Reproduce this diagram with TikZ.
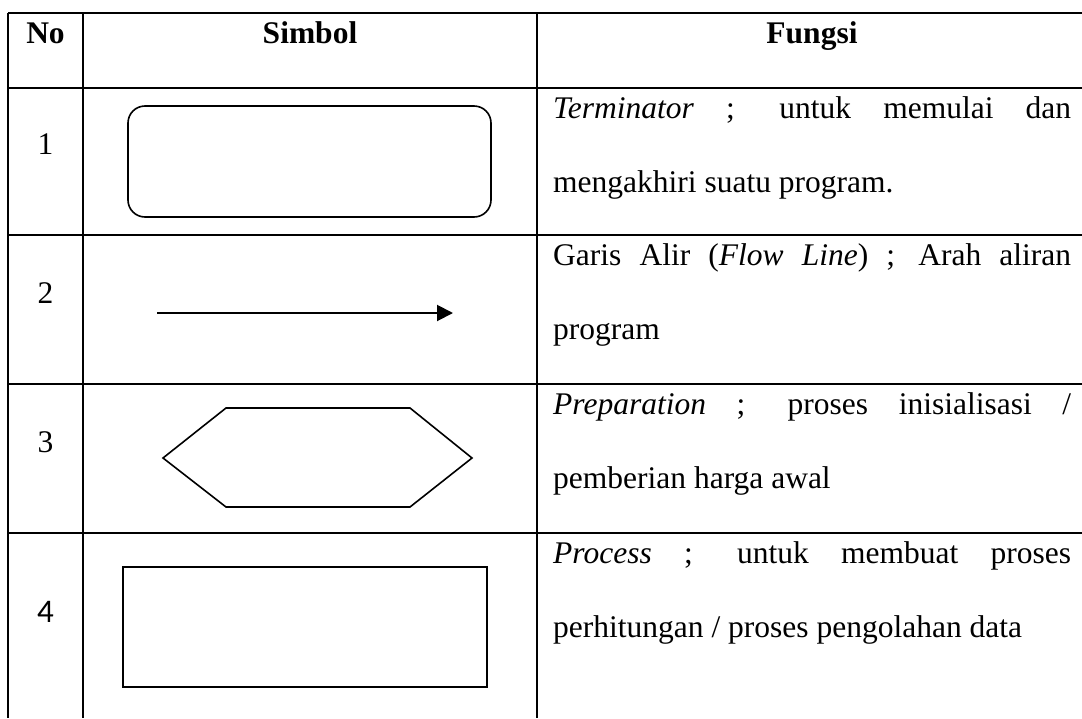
\documentclass[tikz,border=0pt]{standalone}
\usepackage{fontspec}
\setmainfont{Liberation Serif}
\newfontfamily\digitsans{Carlito}
\usetikzlibrary{arrows.meta}
\begin{document}
\begin{tikzpicture}[x=1pt,y=-1pt,
  gridline/.style={line width=1.3pt},
  shapeline/.style={line width=1.6pt},
  headtxt/.style={anchor=base, inner sep=0pt, font=\fontsize{31.5}{36}\selectfont\bfseries},
  numtxt/.style={anchor=base, inner sep=0pt, font=\fontsize{31.5}{36}\selectfont},
  bodytxt/.style={anchor=base west, inner sep=0pt, font=\fontsize{31.5}{36}\selectfont}]
\useasboundingbox (0,0) rectangle (1082,718);
% grid
\foreach \yy in {13,88,235,384,533} \draw[gridline] (8,\yy) -- (1082,\yy);
\foreach \xx in {8,83,537} \draw[gridline] (\xx,13) -- (\xx,718);
% header
\node[headtxt] (hno) at (45.5,43) {No};
\node[headtxt] (hsim) at (310,43) {Simbol};
\node[headtxt] (hfun) at (812,43) {Fungsi};
% numbers
\node[numtxt] (n1) at (45.5,154) {1};
\node[numtxt] (n2) at (45.5,303) {2};
\node[numtxt] (n3) at (45.5,452) {3};
\node[numtxt, font=\fontsize{33}{36}\selectfont\digitsans] (n4) at (45.5,622) {4};
% symbols
\node[draw, shapeline, rounded corners=17pt, minimum width=363pt, minimum height=111pt, inner sep=0pt] (term) at (309.5,161.5) {};
\coordinate (arrA) at (157,313);
\coordinate (arrB) at (453,313);
\draw[shapeline, line width=2pt, -{Triangle[length=16pt,width=16pt]}] (arrA) -- (arrB);
\coordinate (hxL) at (163,458);
\coordinate (hxTL) at (226,408);
\coordinate (hxTR) at (410,408);
\coordinate (hxR) at (472,458);
\coordinate (hxBR) at (410,507);
\coordinate (hxBL) at (226,507);
\draw[shapeline, line join=miter] (hxL) -- (hxTL) -- (hxTR) -- (hxR) -- (hxBR) -- (hxBL) -- cycle;
\node[draw, shapeline, minimum width=364pt, minimum height=120pt, inner sep=0pt] (proc) at (305,627) {};
% texts
\node[bodytxt] (t1a) at (553,118) {\makebox[518pt][s]{\textit{Terminator} ; untuk memulai dan}};
\node[bodytxt] (t1b) at (553,192) {mengakhiri suatu program.};
\node[bodytxt] (t2a) at (553,265) {\makebox[518pt][s]{Garis Alir (\textit{Flow Line}) ; Arah aliran}};
\node[bodytxt] (t2b) at (553,339) {program};
\node[bodytxt] (t3a) at (553,414) {\makebox[518pt][s]{\textit{Preparation} ; proses inisialisasi /}};
\node[bodytxt] (t3b) at (553,488) {pemberian harga awal};
\node[bodytxt] (t4a) at (553,563) {\makebox[518pt][s]{\textit{Process} ; untuk membuat proses}};
\node[bodytxt] (t4b) at (553,637) {perhitungan / proses pengolahan data};
\end{tikzpicture}
\end{document}
